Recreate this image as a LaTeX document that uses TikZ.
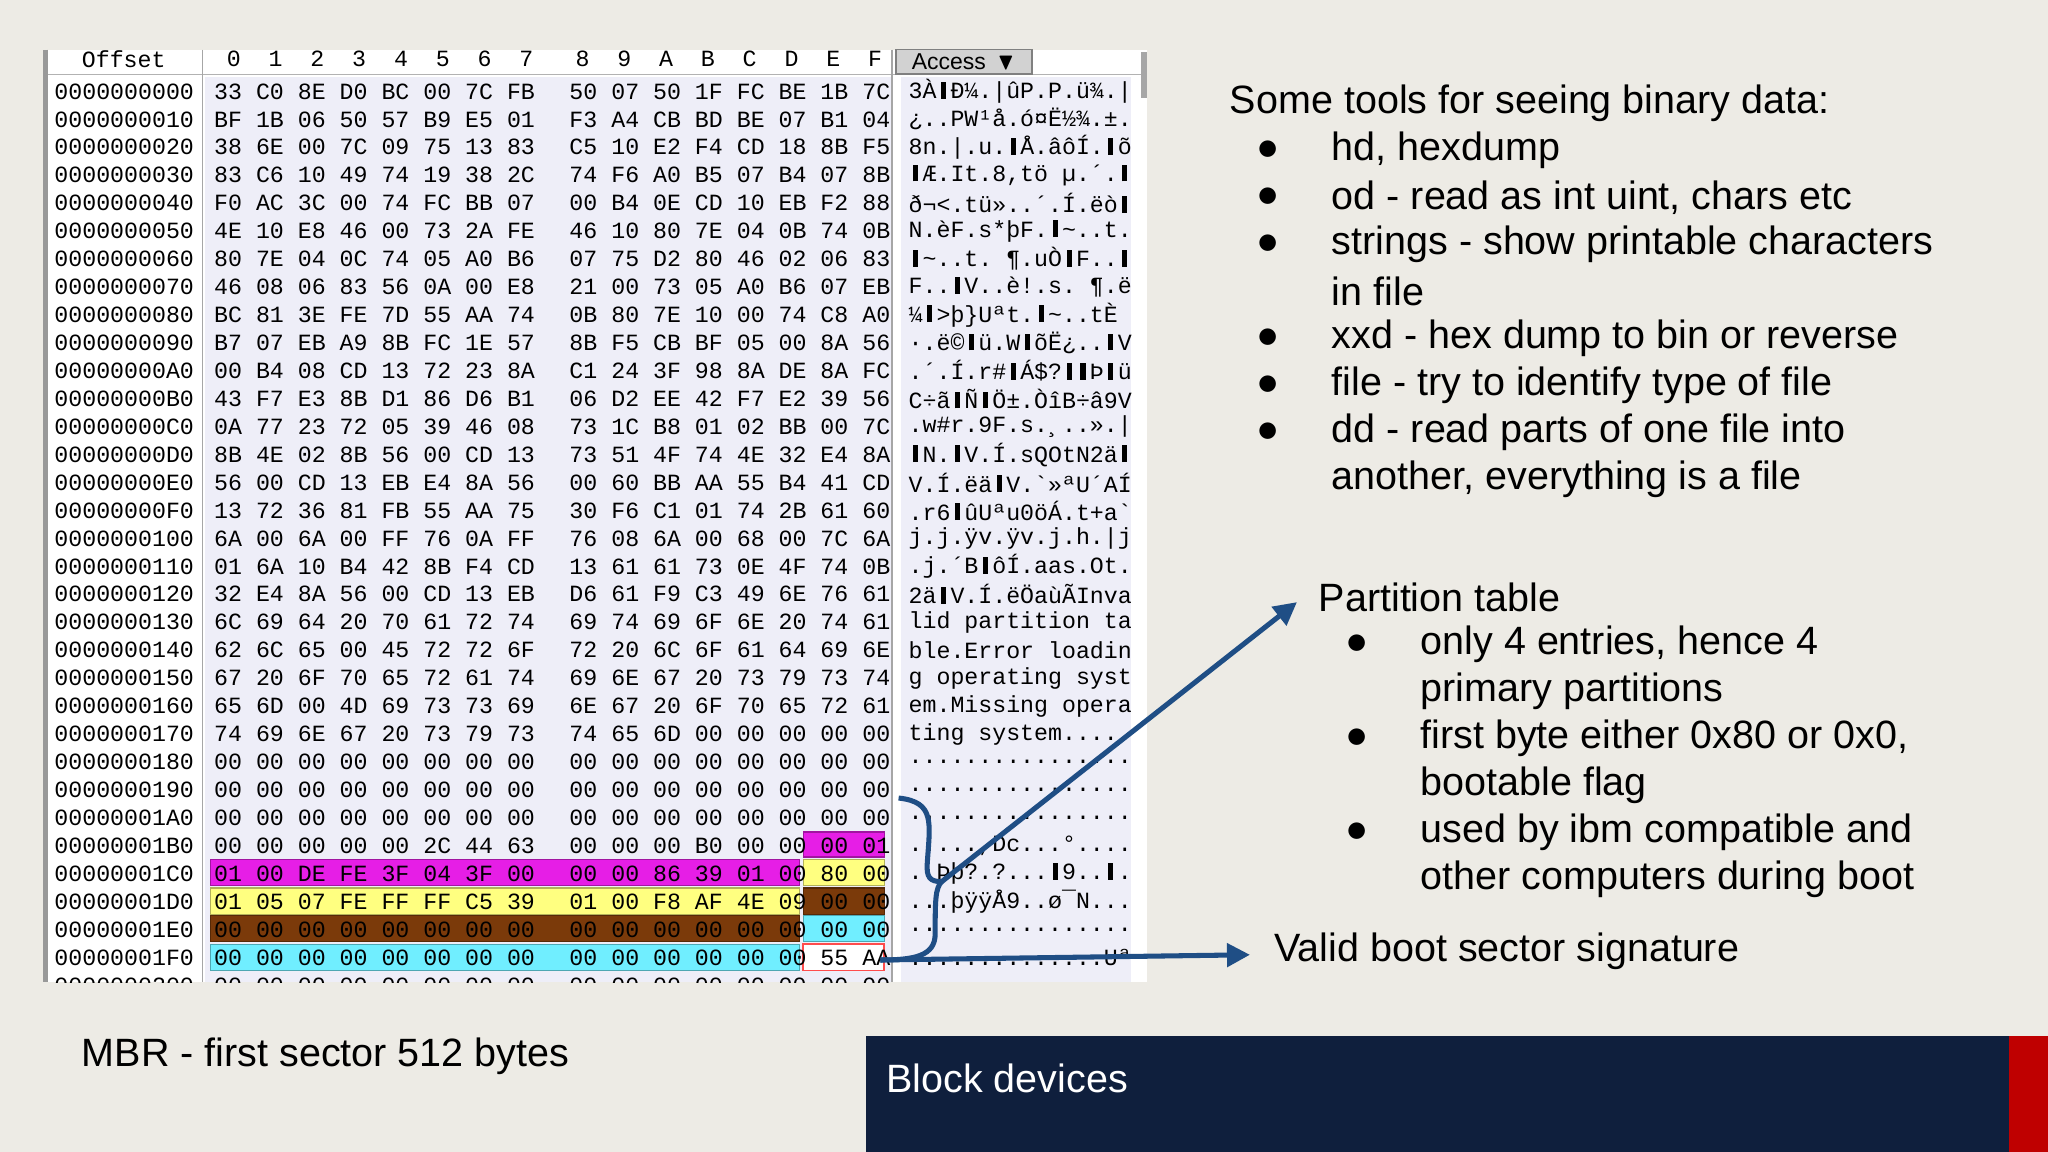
\documentclass[tikz,border=0pt]{standalone}
\usepackage{amssymb}
\usepackage{fontspec}
\setmainfont{Liberation Sans}
\newfontfamily\hexfont{Liberation Mono}
\usetikzlibrary{positioning, calc, arrows.meta}
\definecolor{slidebg}{HTML}{EDEBE5}
\definecolor{navy}{HTML}{0F1F3D}
\definecolor{arrowblue}{HTML}{1F4E85}
\definecolor{hexbg}{HTML}{EEEEF8}
\definecolor{hlmag}{HTML}{E61EE6}
\definecolor{hlyel}{HTML}{FFFF80}
\definecolor{hlbrn}{HTML}{7B3A0A}
\definecolor{hlcyn}{HTML}{70EEFF}
\newcommand{\bk}{\makebox[0.6em]{\rule{0.22em}{0.72em}}}
\newcommand{\tld}{\textasciitilde}

\begin{document}
\begin{tikzpicture}[x=0.01cm, y=-0.01cm,
    hex/.style={font=\hexfont\fontsize{5.06}{6}\selectfont, inner sep=0, anchor=west},
    slide/.style={font=\fontsize{8.6}{10}\selectfont, inner sep=0, anchor=west},
    bul/.style={font=\fontsize{8.6}{10}\selectfont, inner sep=0},
    hl/.style={draw=#1!70!black, fill=#1, line width=0.3pt},
    link/.style={draw=arrowblue, line width=1.1pt, -{Triangle[length=5pt,width=5pt]}}
  ]
  \useasboundingbox (0,0) rectangle (1568,882);
  \fill[slidebg] (0,0) rectangle (1568,882);

  % hex editor window
  \begin{scope}
    \clip (33,38) rectangle (878,752);
    \fill[white] (33,38) rectangle (878,752);
    \fill[hexbg] (157,59) rectangle (682,752);
    \fill[hexbg] (690,59) rectangle (866,752);
    \draw[gray!60] (33,57) -- (878,57);
    \draw[gray!70] (155,38) -- (155,752) (683,38) -- (683,752);
    \draw[gray!80, line width=1pt] (35,38) -- (35,752);
    \node[draw=gray, fill=gray!35, minimum width=1.04cm, minimum height=0.19cm, inner sep=0,
      font=\fontsize{5}{6}\selectfont] (access) at (738,47) {Access \,$\blacktriangledown$};
    \node[hex] (hoff) at (62,45) {Offset};
    \foreach \c [count=\i from 0] in {0,1,2,3,4,5,6,7,8,9,A,B,C,D,E,F}
      \node[hex, anchor=center] (h\i) at ({179+32*\i+(\i>7?11:0)},45) {\c};
    % highlighted bytes
    \draw[hl=hlmag] (615,637) rectangle (677,656);
    \draw[hl=hlmag] (161,658) rectangle (612,678);
    \draw[hl=hlyel] (615,658) rectangle (677,678);
    \draw[hl=hlyel] (161,680) rectangle (612,700);
    \draw[hl=hlbrn] (615,680) rectangle (677,700);
    \draw[hl=hlbrn] (161,701) rectangle (612,721);
    \draw[hl=hlcyn] (615,701) rectangle (677,721);
    \draw[hl=hlcyn] (161,723) rectangle (612,743);
    \draw[red!70, fill=white, line width=0.4pt] (615,723) rectangle (677,743);
    \foreach \off/\ha/\hb/\asc [count=\r from 0] in {
      {0000000000}/{33 C0 8E D0 BC 00 7C FB}/{50 07 50 1F FC BE 1B 7C}/{3À\bk Ð¼.|ûP.P.ü¾.|},
      {0000000010}/{BF 1B 06 50 57 B9 E5 01}/{F3 A4 CB BD BE 07 B1 04}/{¿..PW¹å.ó¤Ë½¾.±.},
      {0000000020}/{38 6E 00 7C 09 75 13 83}/{C5 10 E2 F4 CD 18 8B F5}/{8n.|.u.\bk Å.âôÍ.\bk õ},
      {0000000030}/{83 C6 10 49 74 19 38 2C}/{74 F6 A0 B5 07 B4 07 8B}/{\bk Æ.It.8,tö~µ.´.\bk},
      {0000000040}/{F0 AC 3C 00 74 FC BB 07}/{00 B4 0E CD 10 EB F2 88}/{ð¬<.tü»..´.Í.ëò\bk},
      {0000000050}/{4E 10 E8 46 00 73 2A FE}/{46 10 80 7E 04 0B 74 0B}/{N.èF.s*þF.\bk\tld..t.},
      {0000000060}/{80 7E 04 0C 74 05 A0 B6}/{07 75 D2 80 46 02 06 83}/{\bk\tld..t.~¶.uÒ\bk F..\bk},
      {0000000070}/{46 08 06 83 56 0A 00 E8}/{21 00 73 05 A0 B6 07 EB}/{F..\bk V..è!.s.~¶.ë},
      {0000000080}/{BC 81 3E FE 7D 55 AA 74}/{0B 80 7E 10 00 74 C8 A0}/{¼\bk>þ\}Uªt.\bk\tld..tÈ~},
      {0000000090}/{B7 07 EB A9 8B FC 1E 57}/{8B F5 CB BF 05 00 8A 56}/{·.ë©\bk ü.W\bk õË¿..\bk V},
      {00000000A0}/{00 B4 08 CD 13 72 23 8A}/{C1 24 3F 98 8A DE 8A FC}/{.´.Í.r\#\bk Á\$?\bk\bk Þ\bk ü},
      {00000000B0}/{43 F7 E3 8B D1 86 D6 B1}/{06 D2 EE 42 F7 E2 39 56}/{C÷ã\bk Ñ\bk Ö±.ÒîB÷â9V},
      {00000000C0}/{0A 77 23 72 05 39 46 08}/{73 1C B8 01 02 BB 00 7C}/{.w\#r.9F.s.¸..».|},
      {00000000D0}/{8B 4E 02 8B 56 00 CD 13}/{73 51 4F 74 4E 32 E4 8A}/{\bk N.\bk V.Í.sQOtN2ä\bk},
      {00000000E0}/{56 00 CD 13 EB E4 8A 56}/{00 60 BB AA 55 B4 41 CD}/{V.Í.ëä\bk V.\textasciigrave»ªU´AÍ},
      {00000000F0}/{13 72 36 81 FB 55 AA 75}/{30 F6 C1 01 74 2B 61 60}/{.r6\bk ûUªu0öÁ.t+a\textasciigrave},
      {0000000100}/{6A 00 6A 00 FF 76 0A FF}/{76 08 6A 00 68 00 7C 6A}/{j.j.ÿv.ÿv.j.h.|j},
      {0000000110}/{01 6A 10 B4 42 8B F4 CD}/{13 61 61 73 0E 4F 74 0B}/{.j.´B\bk ôÍ.aas.Ot.},
      {0000000120}/{32 E4 8A 56 00 CD 13 EB}/{D6 61 F9 C3 49 6E 76 61}/{2ä\bk V.Í.ëÖaùÃInva},
      {0000000130}/{6C 69 64 20 70 61 72 74}/{69 74 69 6F 6E 20 74 61}/{lid partition ta},
      {0000000140}/{62 6C 65 00 45 72 72 6F}/{72 20 6C 6F 61 64 69 6E}/{ble.Error loadin},
      {0000000150}/{67 20 6F 70 65 72 61 74}/{69 6E 67 20 73 79 73 74}/{g operating syst},
      {0000000160}/{65 6D 00 4D 69 73 73 69}/{6E 67 20 6F 70 65 72 61}/{em.Missing opera},
      {0000000170}/{74 69 6E 67 20 73 79 73}/{74 65 6D 00 00 00 00 00}/{ting system.....},
      {0000000180}/{00 00 00 00 00 00 00 00}/{00 00 00 00 00 00 00 00}/{................},
      {0000000190}/{00 00 00 00 00 00 00 00}/{00 00 00 00 00 00 00 00}/{................},
      {00000001A0}/{00 00 00 00 00 00 00 00}/{00 00 00 00 00 00 00 00}/{................},
      {00000001B0}/{00 00 00 00 00 2C 44 63}/{00 00 00 B0 00 00 00 01}/{.....,Dc...°....},
      {00000001C0}/{01 00 DE FE 3F 04 3F 00}/{00 00 86 39 01 00 80 00}/{..Þþ?.?...\bk 9..\bk .},
      {00000001D0}/{01 05 07 FE FF FF C5 39}/{01 00 F8 AF 4E 09 00 00}/{...þÿÿÅ9..ø¯N...},
      {00000001E0}/{00 00 00 00 00 00 00 00}/{00 00 00 00 00 00 00 00}/{................},
      {00000001F0}/{00 00 00 00 00 00 00 00}/{00 00 00 00 00 00 55 AA}/{..............Uª},
      {0000000200}/{00 00 00 00 00 00 00 00}/{00 00 00 00 00 00 00 00}/{................}}
    {
      \node[hex] (off\r) at (41,{70+21.39*\r}) {\off};
      \node[hex] (ha\r) at (163.3,{70+21.39*\r}) {\ha};
      \node[hex] (hb\r) at (435.3,{70+21.39*\r}) {\hb};
      \node[hex] (asc\r) at (695,{70+21.39*\r}) {\asc};
    }
  \end{scope}
  \draw[gray!70, line width=1.2pt] (876,40) -- (876,75);

  % right hand text
  \node[slide] (tools) at (941,79) {Some tools for seeing binary data:};
  \foreach \t/\y in {{hd, hexdump}/115, {od - read as int uint, chars etc}/151,
      {strings - show printable characters}/187, {xxd - hex dump to bin or reverse}/259,
      {file - try to identify type of file}/295, {dd - read parts of one file into}/331}
  {
    \node[bul] at (971,\y) {$\bullet$};
    \node[slide] at (1019,\y) {\t};
  }
  \node[slide] (inf) at (1019,223) {in file};
  \node[slide] (another) at (1019,367) {another, everything is a file};

  \node[slide] (ptable) at (1009,457) {Partition table};
  \foreach \t/\y in {{only 4 entries, hence 4}/493, {first byte either 0x80 or 0x0,}/565,
      {used by ibm compatible and}/637}
  {
    \node[bul] at (1039,\y) {$\bullet$};
    \node[slide] at (1087,\y) {\t};
  }
  \node[slide] at (1087,529) {primary partitions};
  \node[slide] at (1087,601) {bootable flag};
  \node[slide] at (1087,673) {other computers during boot};
  \node[slide] (sig) at (975,728) {Valid boot sector signature};

  % brace and arrows
  \coordinate (btip) at (721,675);
  \coordinate (bend) at (674,735);
  \draw[arrowblue, line width=1.1pt] (688,611) .. controls (716,614) and (712,630) .. (710,660)
    .. controls (709,672) and (712,675) .. (btip)
    .. controls (716,680) and (716,690) .. (716,715)
    .. controls (716,732) and (700,735) .. (bend);
  \draw[link] (btip) -- ($(ptable.west)+(-16,4)$);
  \draw[link] (bend) -- ($(sig.west)+(-18,3)$);

  % footer
  \node[slide] (mbr) at (62,809) {MBR - first sector 512 bytes};
  \fill[navy] (663,793) rectangle (1538,882);
  \fill[red!75!black] (1538,793) rectangle (1568,882);
  \node[slide, text=white] (title) at (678,826) {Block devices};
\end{tikzpicture}
\end{document}
